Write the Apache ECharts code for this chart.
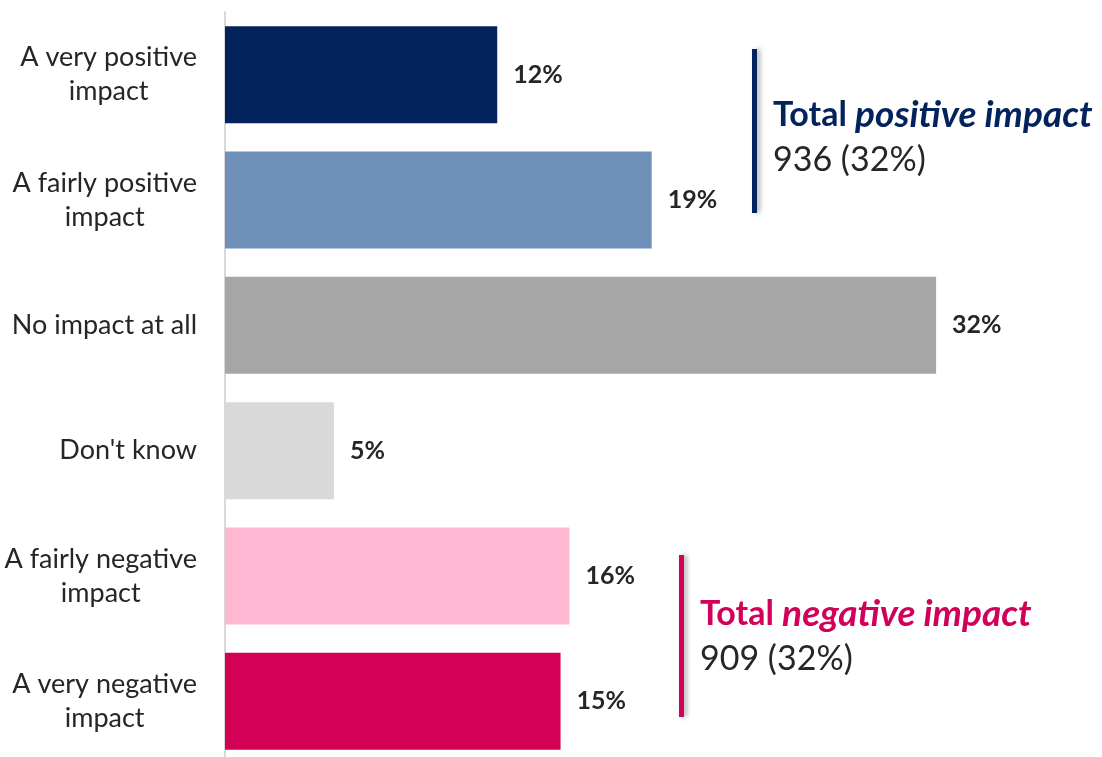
<!DOCTYPE html>
<html>
<head>
<meta charset="utf-8">
<script src="https://cdn.jsdelivr.net/npm/echarts@6/dist/echarts.min.js"></script>
<style>
  html, body { margin: 0; padding: 0; background: #fff; }
  #chart { width: 1102px; height: 757px; }
</style>
</head>
<body>
<div id="chart"></div>
<script>
var categories = [
  'A very positive\nimpact',
  'A fairly positive\nimpact',
  'No impact at all',
  "Don't know",
  'A fairly negative\nimpact',
  'A very negative\nimpact'
];
var shares = [12.25, 19.2, 32, 4.9, 15.5, 15.1];
var shareLabels = ['12%', '19%', '32%', '5%', '16%', '15%'];
var barColors = ['#03235C', '#6F90B9', '#A6A6A6', '#D9D9D9', '#FFB7D2', '#D40055'];
var totalPositive = '936 (32%)';
var totalNegative = '909 (32%)';

var navy = '#03235C';
var crimson = '#D10059';
var textColor = '#262626';
var fontName = 'Lato';

var chart = echarts.init(document.getElementById('chart'));

var option = {
  animation: false,
  grid: { left: 225, right: 77, top: 12, height: 752, outerBoundsMode: 'none', containLabel: false },
  xAxis: {
    type: 'value',
    min: 0,
    max: 36,
    show: false,
    splitLine: { show: false }
  },
  yAxis: {
    type: 'category',
    inverse: true,
    data: categories,
    axisTick: { show: false },
    axisLine: { show: true, lineStyle: { color: '#D9D9D9', width: 2 } },
    axisLabel: {
      margin: 28,
      formatter: function (v) {
        return v.split('\n').map(function (l) { return '{c|' + l + '}'; }).join('\n');
      },
      rich: {
        c: { align: 'center', fontFamily: fontName, fontSize: 27, color: textColor, lineHeight: 34 }
      }
    }
  },
  series: [{
    type: 'bar',
    barWidth: 97,
    data: shares.map(function (v, i) {
      return { value: v, itemStyle: { color: barColors[i] } };
    }),
    label: {
      show: true,
      position: 'right',
      distance: 16,
      fontFamily: fontName,
      fontWeight: 'bold',
      fontSize: 25,
      color: textColor,
      formatter: function (p) { return shareLabels[p.dataIndex]; }
    }
  }],
  graphic: [
    {
      type: 'rect',
      shape: { x: 752, y: 49, width: 5, height: 164 },
      style: { fill: navy, shadowBlur: 5, shadowOffsetX: 3, shadowColor: 'rgba(0,0,0,0.3)' }
    },
    {
      type: 'text',
      left: 773, top: 97,
      style: {
        text: '{b|Total }{bi|positive impact}\n{n|' + totalPositive + '}',
        rich: {
          b: { fontFamily: fontName, fontWeight: 'bold', fontSize: 34, fill: navy, lineHeight: 45 },
          bi: { fontFamily: fontName, fontWeight: 'bold', fontStyle: 'italic', fontSize: 37, fill: navy, lineHeight: 45 },
          n: { fontFamily: fontName, fontSize: 34, fill: textColor, lineHeight: 45 }
        }
      }
    },
    {
      type: 'rect',
      shape: { x: 679, y: 555, width: 5, height: 162 },
      style: { fill: crimson, shadowBlur: 5, shadowOffsetX: 3, shadowColor: 'rgba(0,0,0,0.3)' }
    },
    {
      type: 'text',
      left: 700, top: 596,
      style: {
        text: '{b|Total }{bi|negative impact}\n{n|' + totalNegative + '}',
        rich: {
          b: { fontFamily: fontName, fontWeight: 'bold', fontSize: 34, fill: crimson, lineHeight: 45 },
          bi: { fontFamily: fontName, fontWeight: 'bold', fontStyle: 'italic', fontSize: 37, fill: crimson, lineHeight: 45 },
          n: { fontFamily: fontName, fontSize: 34, fill: textColor, lineHeight: 45 }
        }
      }
    }
  ]
};

chart.setOption(option);
window.addEventListener('resize', function () {
  chart.resize();
});
</script>
</body>
</html>
